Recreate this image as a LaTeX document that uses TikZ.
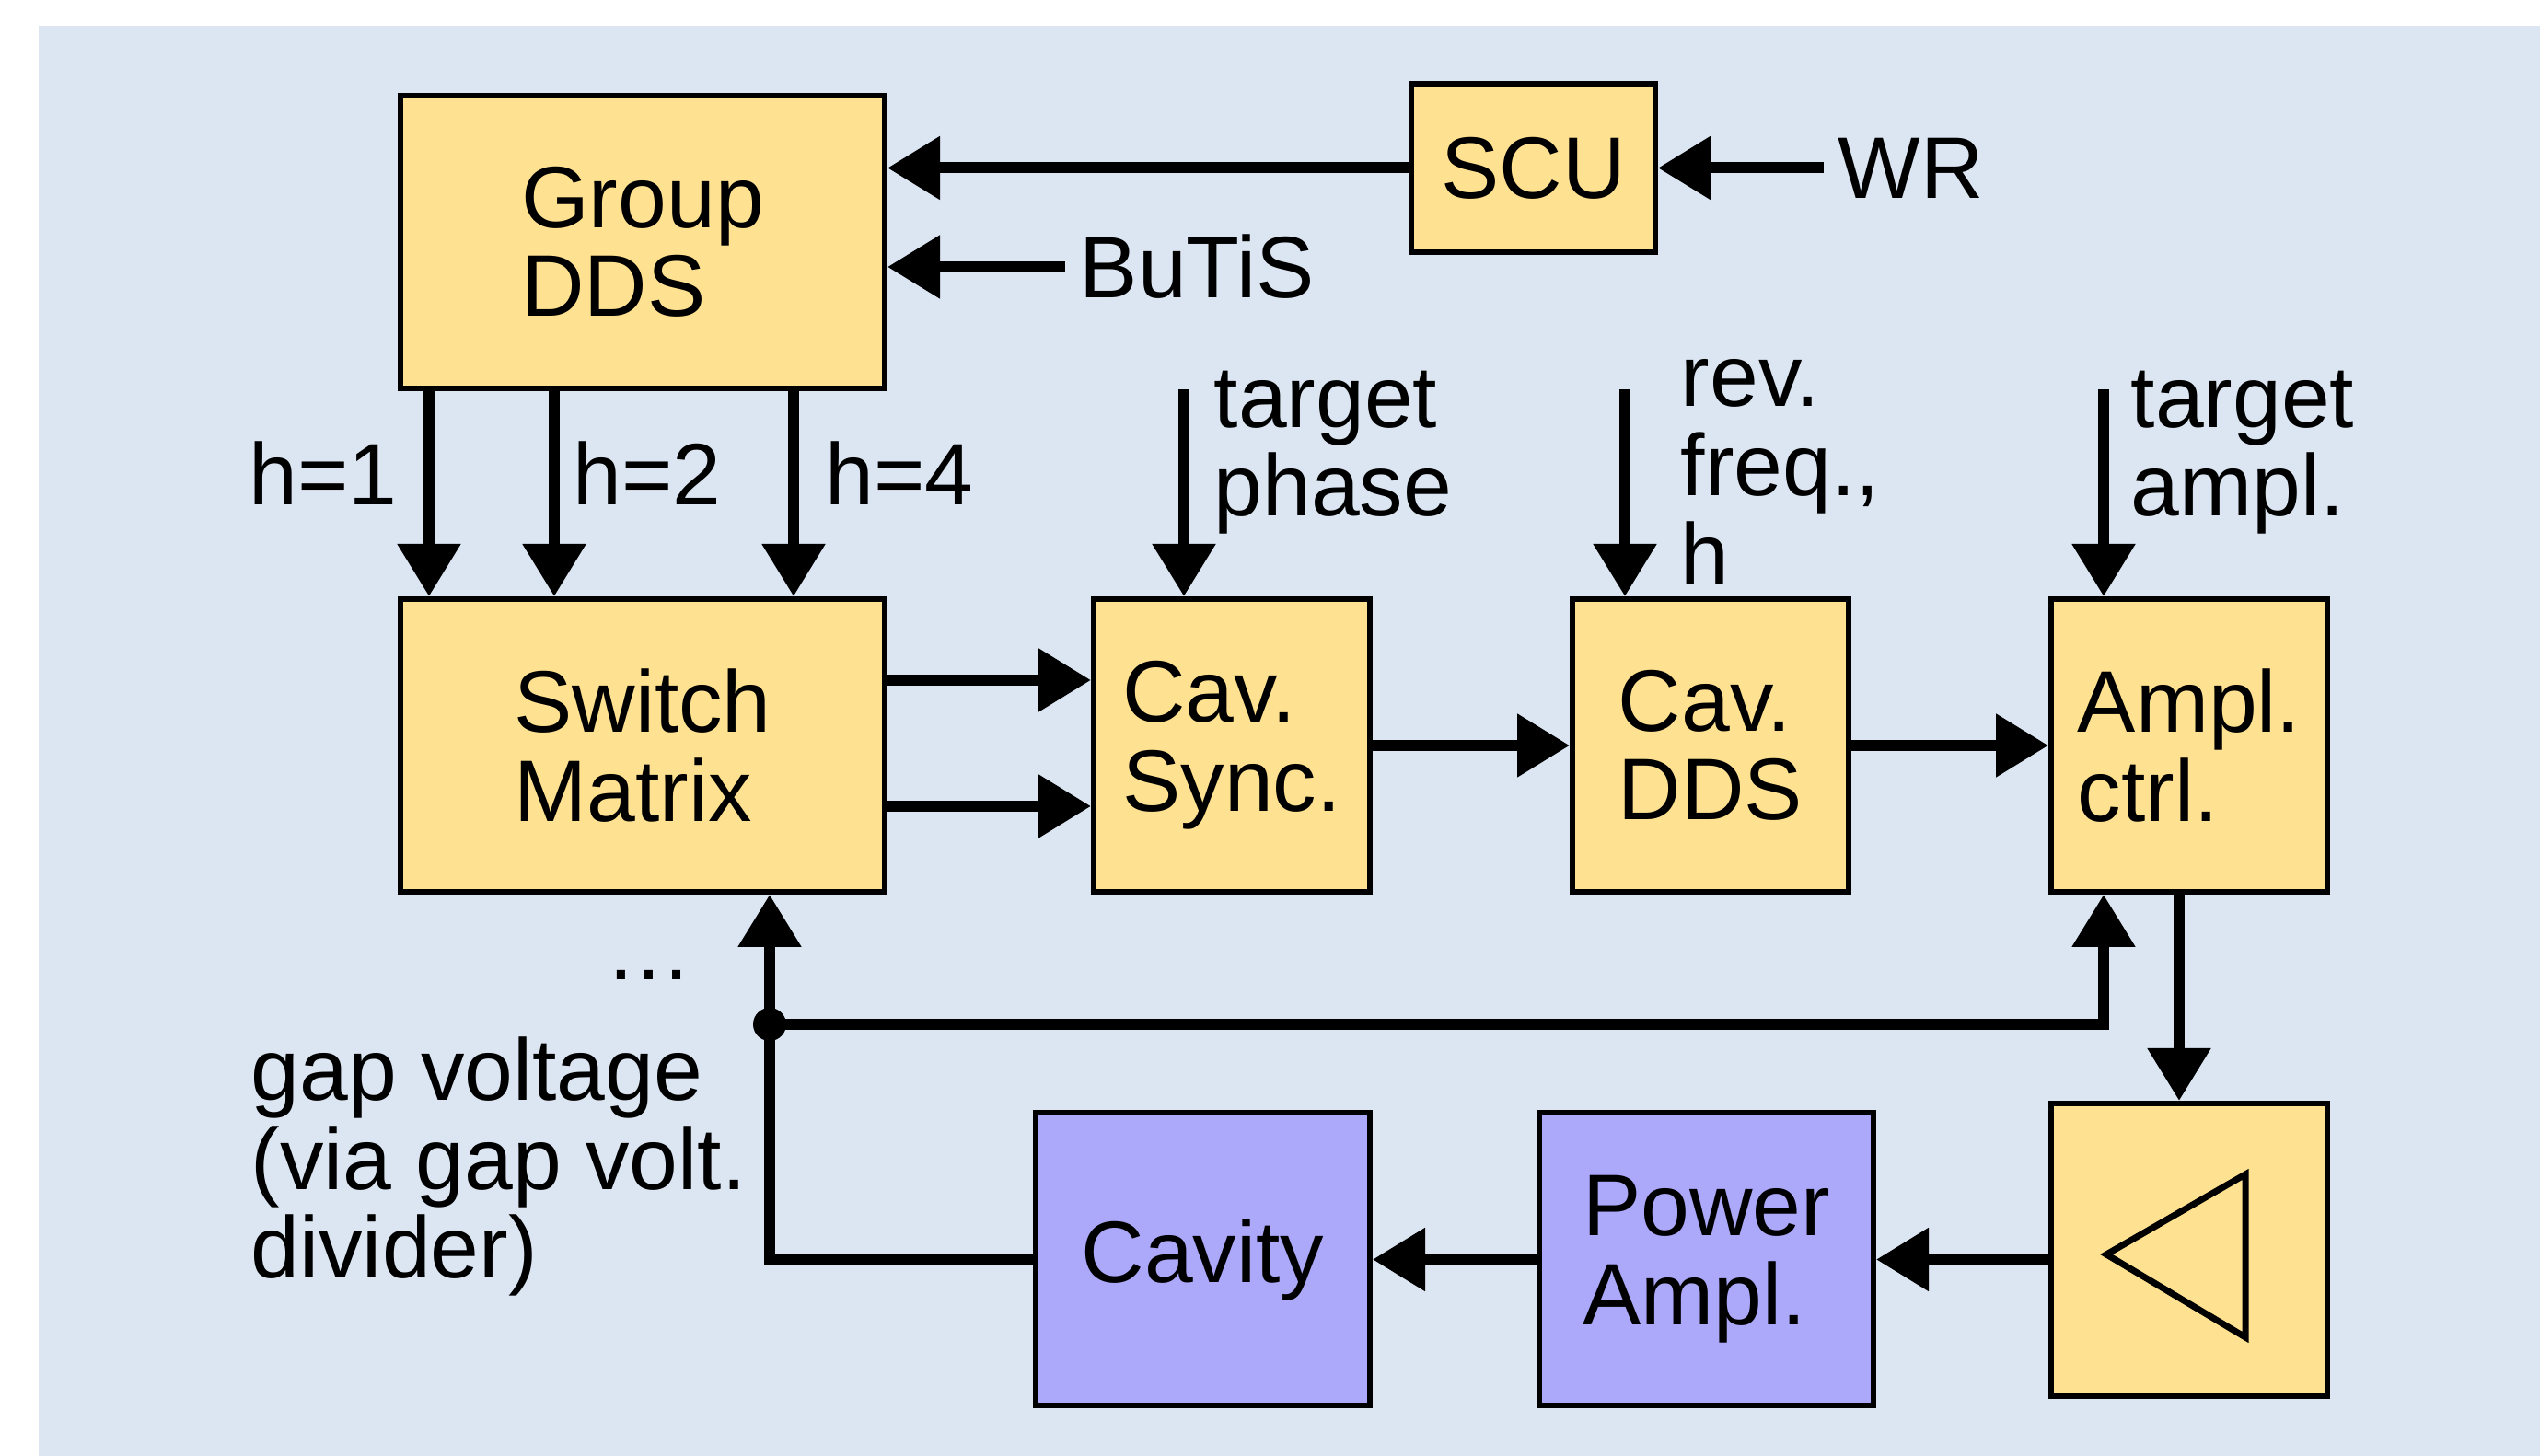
\documentclass[tikz,border=0pt]{standalone}
\usepackage{fontspec}
\setmainfont{Liberation Sans}
\usetikzlibrary{positioning,arrows.meta}
\definecolor{bgblue}{RGB}{220,230,242}
\definecolor{boxyellow}{RGB}{255,226,145}
\definecolor{boxviolet}{RGB}{172,168,250}

\begin{document}
\begin{tikzpicture}[
    every node/.style={font=\fontsize{27}{27.5}\selectfont},
    box/.style={
        draw=black,
        line width=0.06cm,
        fill=boxyellow,
        minimum width=3.0cm,
        minimum height=3.18cm,
        align=left,
        inner sep=0pt
    },
    widebox/.style={
        box,
        fill=boxviolet,
        minimum width=3.63cm
    },
    lbl/.style={
        inner sep=0.15cm,
        align=left
    },
    arr/.style={
        -{Triangle[length=0.57cm,width=0.66cm]},
        line width=0.12cm
    }
]

\useasboundingbox (0,0) rectangle (27.59,15.82);
\fill[bgblue] (0.42,0) rectangle (27.59,15.54);

% blocks
\node[box, minimum width=5.26cm] (group) at (6.98,13.19) {Group\\DDS};
\node[box, minimum width=5.26cm, below=2.23cm of group] (switch) {Switch\\Matrix};
\node[box, right=2.21cm of switch] (sync) {Cav.\\Sync.};
\node[box, right=2.14cm of sync] (cavdds) {Cav.\\DDS};
\node[box, right=2.14cm of cavdds] (amplctrl) {Ampl.\\ctrl.};
\node[box, below=2.24cm of amplctrl] (amp) {};
\node[widebox, left=1.87cm of amp, yshift=-0.105cm] (power) {Power\\Ampl.};
\node[widebox, left=1.78cm of power] (cavity) {Cavity};
\node[box, minimum width=2.65cm, minimum height=1.83cm] (scu) at (16.655,13.995) {SCU};

% amplifier symbol
\draw[line width=0.07cm] ([shift={(-0.90,-0.05)}]amp.center)
    -- ([shift={(0.61,0.82)}]amp.center)
    -- ([shift={(0.61,-0.95)}]amp.center) -- cycle;

% labels
\node[lbl, right=1.8cm of scu] (wr) {WR};
\node[lbl, anchor=west] (butis) at (11.57,12.92) {BuTiS};
\node[lbl, anchor=base east] (h1) at (4.47,10.33) {h=1};
\node[lbl, anchor=base west] (h2) at (6.07,10.33) {h=2};
\node[lbl, anchor=base west] (h4) at (8.81,10.33) {h=4};
\node[lbl, anchor=north west] (phase) at (13.03,11.95) {target\\phase};
\node[lbl, anchor=north west] (rev) at (18.10,12.07) {rev.\\freq.,\\h};
\node[lbl, anchor=north west] (ampltgt) at (22.99,11.95) {target\\ampl.};
\node[lbl, anchor=north west] (gap) at (2.57,4.71) {gap voltage\\(via gap volt.\\divider)};
\node[lbl] (dots) at (7.05,5.23) {…};

\coordinate (phasein) at (12.86,11.59);
\coordinate (revin) at (17.65,11.59);
\coordinate (amplin) at (22.85,11.59);
\coordinate (tap) at (8.36,4.69);

% connections
\draw[arr] (scu) -- (scu -| group.east);
\draw[arr] (wr) -- (scu);
\draw[arr] (butis) -- (butis -| group.east);
\draw[arr] ([xshift=0.34cm]group.south west) -- ([xshift=0.34cm]switch.north west);
\draw[arr] ([xshift=1.70cm]group.south west) -- ([xshift=1.70cm]switch.north west);
\draw[arr] ([xshift=4.30cm]group.south west) -- ([xshift=4.30cm]switch.north west);
\draw[arr] (phasein) -- (phasein |- sync.north);
\draw[arr] (revin) -- (revin |- cavdds.north);
\draw[arr] (amplin) -- (amplin |- amplctrl.north);
\draw[arr] ([yshift=0.71cm]switch.east) -- ([yshift=0.71cm]switch.east -| sync.west);
\draw[arr] ([yshift=-0.66cm]switch.east) -- ([yshift=-0.66cm]switch.east -| sync.west);
\draw[arr] (sync) -- (cavdds);
\draw[arr] (cavdds) -- (amplctrl);
\draw[arr] ([xshift=-0.11cm]amplctrl.south) -- ([xshift=-0.11cm]amp.north);
\draw[arr] (amp.west |- power) -- (power);
\draw[arr] (power) -- (cavity);
\draw[arr] (cavity.west) -| (tap |- switch.south);
\draw[arr] (tap) -| (amplin |- amplctrl.south);
\fill (tap) circle (0.18cm);

\end{tikzpicture}
\end{document}
